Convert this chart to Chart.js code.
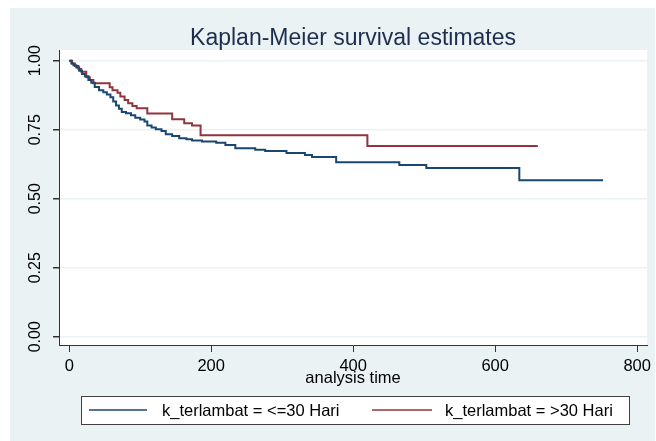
<!DOCTYPE html>
<html>
<head>
<meta charset="utf-8">
<title>Kaplan-Meier survival estimates</title>
<script src="https://cdn.jsdelivr.net/npm/chart.js"></script>
<style>
  body { margin: 0; background: #ffffff; }
  canvas { display: block; }
</style>
</head>
<body>
<canvas id="kmChart" width="656" height="441"></canvas>
<script>
// survival data (time, survival after each step)
const blueTime = [0, 3, 6, 10, 14, 18, 22, 27, 31, 36, 42, 48, 53, 58, 62, 66, 70, 74, 80, 87,
                  93, 100, 106, 110, 116, 122, 130, 136, 145, 155, 165, 173, 187, 207, 220, 234, 262, 276, 306, 332,
                  342, 376, 465, 503, 634, 752];
const blueSurv = [1, 0.99, 0.984, 0.975, 0.964, 0.952, 0.944, 0.93, 0.92, 0.905, 0.893, 0.886, 0.878, 0.868, 0.852, 0.838, 0.826, 0.814, 0.81, 0.802,
                  0.793, 0.787, 0.78, 0.765, 0.758, 0.752, 0.745, 0.734, 0.727, 0.719, 0.715, 0.711, 0.707, 0.703, 0.695, 0.683, 0.677, 0.673, 0.666, 0.658,
                  0.651, 0.632, 0.622, 0.611, 0.567, 0.567];
const redTime = [0, 4, 8, 13, 17, 24, 29, 34, 57, 61, 68, 72, 78, 83, 89, 95, 110, 145, 162, 173, 185, 420, 660];
const redSurv = [1, 0.99, 0.981, 0.97, 0.96, 0.94, 0.93, 0.918, 0.904, 0.893, 0.884, 0.87, 0.858, 0.846, 0.836, 0.828, 0.809, 0.788, 0.773, 0.765, 0.73, 0.691, 0.691];

const seriesLabels = ['k_terlambat = <=30 Hari', 'k_terlambat = >30 Hari'];
const xTicks = [0, 200, 400, 600, 800];
const yTicks = [0, 0.25, 0.5, 0.75, 1];
const yTickLabels = ['0.00', '0.25', '0.50', '0.75', '1.00'];
const titleText = 'Kaplan-Meier survival estimates';
const xTitle = 'analysis time';

const FONT = "'Liberation Sans', Arial, sans-serif";
const BLUE = '#1a476f';
const RED = '#90353b';
const PANEL = '#eaf2f3';

function toPoints(t, s) {
    return t.map((v, i) => ({ x: v, y: s[i] }));
}

// backgrounds, title, rotated y labels and the boxed legend
const stataLook = {
    id: 'stataLook',
    beforeDraw(chart) {
        const c = chart.ctx;
        const a = chart.chartArea;
        c.save();
        c.fillStyle = '#ffffff';
        c.fillRect(0, 0, chart.width, chart.height);
        c.fillStyle = PANEL;
        c.fillRect(10, 8, 645, 433);
        c.fillStyle = '#ffffff';
        c.fillRect(a.left, a.top, a.right - a.left, a.bottom - a.top);
        c.restore();
    },
    afterDraw(chart) {
        const c = chart.ctx;
        const a = chart.chartArea;
        const ys = chart.scales.y;
        c.save();
        // title
        c.fillStyle = '#1e2d4f';
        c.font = '23px ' + FONT;
        c.textAlign = 'center';
        c.textBaseline = 'alphabetic';
        c.fillText(titleText, (a.left + a.right) / 2, 44.5);

        // y tick labels, rotated
        c.fillStyle = '#000000';
        c.font = '16px ' + FONT;
        yTicks.forEach((v, i) => {
            const py = ys.getPixelForValue(v);
            c.save();
            c.translate(39.5, py);
            c.rotate(-Math.PI / 2);
            c.textAlign = 'center';
            c.fillText(yTickLabels[i], 0, 0);
            c.restore();
        });

        // legend
        const lx = 81.5, ly = 396.5, lw = 548, lh = 28;
        c.fillStyle = '#ffffff';
        c.fillRect(lx, ly, lw, lh);
        c.strokeStyle = '#404040';
        c.lineWidth = 1;
        c.strokeRect(lx, ly, lw, lh);
        const entries = [
            { color: BLUE, x0: 89, x1: 147, tx: 162 },
            { color: RED, x0: 372, x1: 432, tx: 445 }
        ];
        c.font = '16.5px ' + FONT;
        c.textAlign = 'left';
        c.textBaseline = 'middle';
        entries.forEach((e, i) => {
            c.strokeStyle = e.color;
            c.lineWidth = 1.5;
            c.beginPath();
            c.moveTo(e.x0, 410);
            c.lineTo(e.x1, 410);
            c.stroke();
            c.fillStyle = '#000000';
            c.fillText(seriesLabels[i], e.tx, 411);
        });
        c.restore();
    }
};

const ctx = document.getElementById('kmChart').getContext('2d');
const chart = new Chart(ctx, {
    type: 'line',
    data: {
        datasets: [{
            label: seriesLabels[0],
            data: toPoints(blueTime, blueSurv),
            borderColor: BLUE,
            borderWidth: 2,
            stepped: 'before',
            pointRadius: 0,
            fill: false
        }, {
            label: seriesLabels[1],
            data: toPoints(redTime, redSurv),
            borderColor: RED,
            borderWidth: 2,
            stepped: 'before',
            pointRadius: 0,
            fill: false
        }]
    },
    options: {
        responsive: false,
        animation: false,
        devicePixelRatio: 1,
        layout: { padding: { left: 10, top: 50, right: 4, bottom: 0 } },
        plugins: {
            legend: { display: false },
            title: { display: false },
            tooltip: { enabled: false }
        },
        scales: {
            x: {
                type: 'linear',
                min: -14.4,
                max: 814,
                afterBuildTicks: (s) => { s.ticks = xTicks.map(v => ({ value: v })); },
                afterFit: (s) => { s.height = 96; },
                grid: {
                    drawOnChartArea: false,
                    color: 'rgba(0,0,0,0)',
                    tickColor: '#333333',
                    tickLength: 7
                },
                border: { color: '#333333', width: 1 },
                ticks: {
                    color: '#000000',
                    font: { family: FONT, size: 16.5 },
                    padding: 5,
                    maxRotation: 0,
                    minRotation: 0
                },
                title: {
                    display: true,
                    text: xTitle,
                    color: '#000000',
                    font: { family: FONT, size: 16.5 },
                    padding: { top: 0, bottom: 53 }
                }
            },
            y: {
                type: 'linear',
                min: -0.030,
                max: 1.0388,
                afterBuildTicks: (s) => { s.ticks = yTicks.map(v => ({ value: v })); },
                afterFit: (s) => { s.width = 49; },
                grid: {
                    color: PANEL,
                    lineWidth: 1.5,
                    tickColor: '#333333',
                    tickLength: 6
                },
                border: { color: '#333333', width: 1 },
                ticks: { display: false }
            }
        }
    },
    plugins: [stataLook]
});
</script>
</body>
</html>
